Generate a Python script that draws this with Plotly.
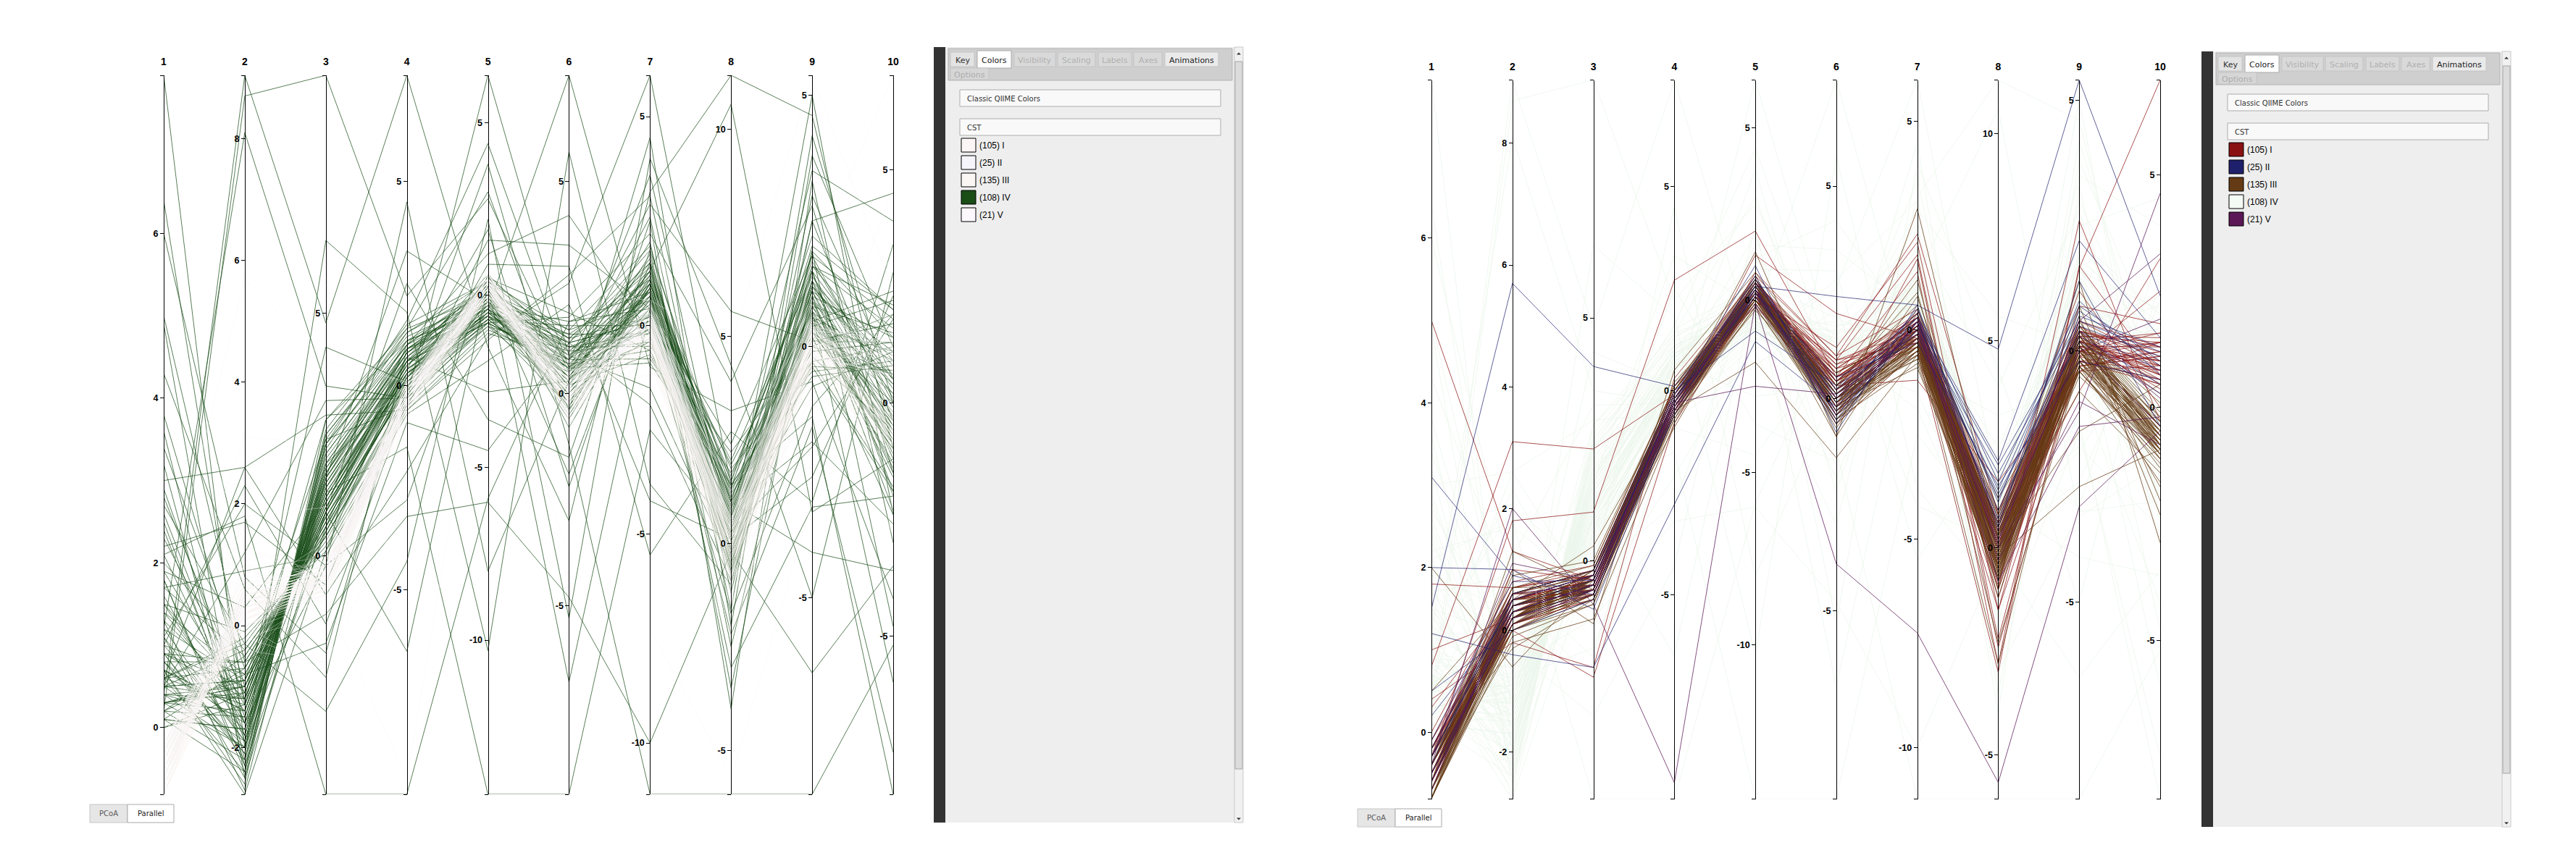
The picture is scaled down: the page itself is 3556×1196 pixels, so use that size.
import plotly.graph_objects as go

W, H = 3556, 1196

# -------------------------------------
# axes of the parallel plot (PC1..PC10)
# -------------------------------------
axis_labels = ["1", "2", "3", "4", "5", "6", "7", "8", "9", "10"]
axis_ranges = [[-0.81, 7.92], [-2.77, 9.04], [-4.91, 9.9], [-10.0, 7.6], [-14.47, 6.38],
               [-9.44, 7.5], [-11.23, 5.99], [-6.06, 11.3], [-8.92, 5.4], [-8.4, 7.03]]
axis_ticks = [[0, 2, 4, 6], [-2, 0, 2, 4, 6, 8], [0, 5], [-10, -5, 0, 5], [-10, -5, 0, 5],
              [-5, 0, 5], [-10, -5, 0, 5], [-5, 0, 5, 10], [-5, 0, 5], [-5, 0, 5]]

cst_groups = ["I", "II", "III", "IV", "V"]
cst_counts = [105, 25, 135, 108, 21]

# samples, one row per sample, values on axes 1..10
iv_rows = [
    [0.4, -1.2, 1.1, 0.3, -0.4, 0.6, 0.5, 0.2, 0.8, -0.5],
    [0.7, -1.6, 1.6, 0.6, -0.2, 1.2, 0.1, 0.9, 0.4, 1.1],
    [0.2, -0.8, 0.6, 0.0, -0.6, -0.2, 0.9, -0.3, 1.3, -1.2],
    [1.1, -1.9, 1.9, 0.8, 0.1, 0.4, 1.3, 0.5, 0.2, 0.6],
    [0.5, -0.4, 0.3, -0.3, -0.9, 1.0, -0.4, 1.4, -0.3, -1.8],
    [0.9, -2.1, 2.3, 1.0, 0.3, 0.1, 0.7, -0.6, 1.6, 2.1],
    [0.3, -1.0, 0.9, 0.4, -0.5, 1.4, -0.2, 0.3, 0.6, -0.2],
    [1.4, -1.4, 1.3, 0.2, 0.2, -0.4, 1.1, 1.8, -0.5, 0.9],
    [0.6, -0.2, 0.2, -0.5, -1.0, 0.7, 0.3, -0.8, 1.0, -2.3],
    [1.8, -2.3, 2.5, 1.2, -0.1, 0.9, 1.6, 0.0, 1.9, 1.4],
    [0.1, -1.7, 1.5, 0.5, -0.3, -0.1, 0.4, 1.1, 0.3, -0.9],
    [0.8, -0.6, 0.5, 0.1, -0.7, 1.6, 0.0, 0.6, 1.4, 0.3],
    [2.3, -1.1, 0.9, 0.7, 0.4, 0.3, 1.4, -0.2, 0.9, -1.5],
    [0.4, -2.0, 2.0, 0.9, -0.6, 1.1, -0.5, 2.2, 0.1, 1.7],
    [1.2, -0.9, 0.8, -0.1, 0.0, 0.5, 0.8, 0.4, -0.2, -0.6],
    [0.0, -1.3, 1.2, 0.6, -0.8, -0.3, 1.0, 1.5, 1.7, 0.1],
    [2.9, -1.5, 1.4, 0.3, 0.5, 1.3, 0.2, -0.5, 0.5, 2.4],
    [0.6, -0.3, 0.4, -0.4, -0.2, 0.2, -0.7, 0.8, 1.1, -1.1],
    [1.6, -1.8, 1.7, 1.1, -0.4, 0.8, 1.5, 0.2, -0.4, 0.7],
    [0.3, -1.1, 1.0, 0.2, 0.1, 1.5, 0.6, 1.9, 0.7, -0.4],
    [3.4, -0.7, 0.7, 0.0, -0.9, 0.0, -0.3, -0.1, 1.5, -2.0],
    [0.9, -2.2, 2.2, 1.3, 0.2, 0.6, 1.2, 1.0, 0.0, 1.9],
    [0.2, -0.5, 0.5, -0.2, -0.5, 1.2, 0.1, -0.7, 0.8, -0.7],
    [1.3, -1.2, 1.1, 0.5, -0.1, -0.5, 0.9, 0.7, 1.2, 0.5],
    [0.5, -1.9, 1.8, 0.8, 0.3, 0.9, -0.1, 1.3, -0.1, 1.3],
    [2.0, -0.4, 0.4, -0.3, -0.7, 0.4, 1.1, 0.1, 0.6, -1.6],
    [0.7, -1.4, 1.3, 0.4, -0.3, 1.7, 0.4, 2.4, 1.8, 0.0],
    [0.1, -2.4, 2.4, 1.4, 0.0, 0.2, 1.7, -0.4, 0.4, 2.2],
    [1.0, -0.8, 0.7, 0.1, -0.8, 0.7, -0.6, 0.5, 1.0, -0.8],
    [2.6, -1.6, 1.5, 0.6, 0.6, 1.0, 0.8, 1.2, -0.6, 0.8],
    [0.4, -1.0, 1.0, 0.3, -0.4, -0.2, 0.3, 0.0, 1.3, -0.3],
    [1.5, -0.1, 0.1, -0.6, -1.1, 0.8, -0.8, 1.7, 0.2, -2.4],
    [0.8, -1.7, 1.7, 0.9, 0.1, 1.3, 1.3, 0.6, 0.9, 1.0],
    [0.3, -2.0, 2.1, 1.0, -0.2, 0.1, 0.6, -0.3, 1.6, 1.6],
    [1.9, -1.3, 1.2, 0.4, -0.6, 0.6, 1.0, 0.9, 0.3, -1.0],
    [0.6, -0.7, 0.6, 0.0, 0.2, 1.1, -0.2, 0.3, 0.7, 0.4],
    [3.8, -1.0, 0.9, 0.2, -0.5, 0.3, 0.7, 1.4, 1.1, -0.6],
    [0.2, -1.5, 1.4, 0.7, 0.0, -0.4, 1.2, -0.6, -0.3, 1.2],
    [1.1, -2.5, 2.6, 1.5, 0.4, 1.5, 1.9, 0.8, 2.0, 2.0],
    [0.5, -0.9, 0.8, -0.1, -0.9, 0.5, 0.0, 0.2, 0.5, -1.3],
    [1.7, -0.5, 0.4, -0.2, -0.4, 0.9, 0.5, 2.0, 1.4, -0.1],
    [0.9, -1.2, 1.2, 0.5, 0.3, 0.0, 0.9, -0.2, 0.0, 0.6],
    [2.4, -1.8, 1.8, 0.8, -0.2, 1.2, 1.4, 1.1, 0.8, 1.5],
    [0.0, -1.1, 1.0, 0.3, -0.7, 0.4, -0.4, 0.7, 1.2, -0.5],
    [1.3, -2.7, 1.6, 0.9, 0.1, 0.8, 0.6, -0.5, 0.6, 0.9],
    [0.7, -2.6, 2.8, 1.1, -0.3, -0.3, 1.0, 1.6, 1.5, -1.9],
    [0.6, -1.3, 1.2, 0.5, -0.2, 0.7, 0.8, 0.4, 0.9, 0.2],
    [1.0, -1.8, 1.7, 0.7, 0.0, 1.0, 1.0, 0.9, 1.3, 0.8],
    [0.3, -0.9, 0.8, 0.2, -0.5, 0.4, 0.4, 0.1, 0.6, -0.6],
    [0.8, -2.0, 2.1, 1.0, 0.2, 0.5, 1.3, 1.2, 1.0, 1.4],
    [0.4, -1.5, 1.4, 0.6, -0.3, 1.1, 0.2, 0.6, 1.5, 0.5],
    [1.5, -1.1, 1.0, 0.3, -0.6, 0.2, 0.9, -0.2, 0.4, -1.0],
    [0.2, -2.2, 2.3, 1.1, 0.1, 1.3, 1.5, 1.0, 1.8, 1.8],
    [0.9, -0.6, 0.6, 0.0, -0.8, 0.6, -0.1, 0.3, 0.7, -1.4],
    [2.1, -1.6, 1.6, 0.8, 0.3, 0.8, 1.2, 0.7, 1.1, 1.1],
    [0.5, -1.2, 1.1, 0.4, -0.4, 0.0, 0.6, 0.5, 0.3, 0.0],
    [1.2, -1.9, 1.9, 0.9, -0.1, 1.4, 1.1, 1.5, 1.6, 0.9],
    [0.1, -0.7, 0.7, 0.1, -0.7, 0.3, 0.3, -0.4, 0.9, -0.9],
    [0.7, -1.4, 1.5, 0.6, 0.1, 0.9, 0.7, 0.8, 1.2, 0.4],
    [1.8, -2.4, 2.5, 1.3, 0.4, 1.2, 1.8, 1.3, 2.2, 2.0],
    [0.3, -1.0, 0.9, 0.3, -0.5, 0.6, 0.1, 0.2, 0.5, -0.3],
    [2.2, 1.7, -0.6, 0.2, 0.5, 1.9, -0.6, 0.4, -0.8, 1.1],
    [1.0, 2.3, -1.4, -0.4, -0.8, 0.6, 2.6, -1.2, 2.5, -0.4],
    [0.5, 1.2, 3.2, -0.3, 1.6, 3.5, 0.4, 0.9, -1.9, -2.6],
    [3.0, 2.6, 2.9, -0.6, -1.3, 2.8, 3.1, -0.7, 3.0, 0.5],
    [7.92, -2.0, 0.5, 0.2, -0.3, 0.4, 0.9, -0.5, 0.6, -0.8],
    [6.4, -1.3, 2.8, 1.4, 3.0, -0.4, 4.5, -2.0, 3.8, 1.2],
    [5.0, -0.6, -1.2, -3.2, -6.0, -4.8, -10.0, -0.2, -6.5, -3.5],
    [4.3, 0.6, -2.5, 0.9, -0.4, 7.5, -1.0, 3.2, -0.7, -4.2],
    [0.2, 8.7, 9.9, 2.2, 2.8, 0.5, 2.0, -1.6, 4.2, 0.0],
    [0.4, 9.04, 4.8, 7.6, -1.5, -3.0, 3.2, 11.3, 4.6, -1.0],
    [1.2, 8.1, 3.5, -0.3, 6.38, 0.9, -1.5, -0.5, 2.5, 4.5],
    [0.6, 2.6, -0.8, -2.1, -1.2, 2.6, 5.99, 1.4, -1.4, -8.4],
    [2.1, 1.8, -4.91, -10.0, -5.9, 1.7, 0.8, -3.0, -3.2, -2.0],
    [0.9, -1.0, 1.3, -1.5, -14.47, -9.44, -2.5, 0.3, -2.0, 1.8],
    [3.6, -2.2, 1.9, -0.1, 3.8, -1.2, -11.23, -6.06, -8.92, -5.2],
    [1.5, -1.6, -0.2, 4.5, -8.0, 0.3, 1.3, 10.6, -3.3, -1.2],
    [0.8, -2.1, 6.5, 1.8, -10.3, 5.7, -3.8, -1.0, 1.9, -4.8],
    [2.7, -0.3, -3.2, -4.3, 2.2, -5.3, 4.0, 4.3, -5.0, 2.8],
    [4.9, -2.5, 0.9, 2.5, -3.6, -1.5, 2.5, -4.0, 3.3, -3.0],
    [0.5, -0.9, 2.4, -0.5, 0.9, 3.0, -5.5, 2.7, -3.1, 3.4],
    [1.9, 0.3, 1.1, 0.4, 1.9, -2.2, 1.8, -2.5, 0.7, -6.0],
    [0.3, -1.4, 1.7, 0.7, -2.8, 0.3, 3.6, 0.2, 5.0, -2.4],
    [3.2, -2.3, 0.6, 1.0, 1.2, 4.2, -0.2, -1.7, -1.2, 1.9],
    [1.1, 2.0, -0.2, -2.8, 0.6, -0.8, 0.9, 1.0, -4.1, -3.6],
    [0.7, -2.77, 0.1, 0.6, -0.8, 1.8, 2.2, 3.9, 2.8, -1.5],
    [2.5, -1.9, 1.6, 3.3, -0.2, -0.6, 1.0, 0.6, 3.5, 3.9],
    [1.4, -0.8, -1.8, -0.9, -4.5, 1.2, -1.9, -0.9, 0.4, 0.2],
    [0.1, -1.7, 0.9, -6.5, 0.3, -6.8, 0.4, -2.2, -1.6, -7.5],
    [6.0, 0.8, -2.0, 0.3, -0.6, 0.8, 2.9, 5.6, 0.1, 1.3],
    [0.6, -2.4, 2.3, 1.6, 4.4, 0.6, -0.9, 1.4, -0.4, -1.9],
    [2.8, -1.2, 4.3, 0.1, 0.1, -1.9, 1.5, -3.5, 1.2, 0.6],
    [1.7, 0.9, 0.0, -0.7, -1.9, 2.1, -4.2, 0.1, -2.6, 2.3],
]

iii_rows = [
    [-0.6, 0.3, -0.5, -0.3, 0.2, -0.1, -0.1, 0.3, 0.1, -0.6],
    [-0.7, 0.2, -0.6, -0.4, 0.1, -0.3, -0.2, 0.1, 0.0, -0.8],
    [-0.5, 0.4, -0.4, -0.2, 0.3, 0.0, 0.0, 0.4, 0.2, -0.5],
    [-0.8, 0.1, -0.7, -0.5, 0.0, -0.4, -0.3, 0.0, -0.1, -0.9],
    [-0.4, 0.5, -0.3, -0.1, 0.4, 0.1, 0.1, 0.5, 0.3, -0.4],
    [-0.6, 0.2, -0.8, -0.6, 0.2, -0.2, -0.4, -0.2, -0.2, -1.0],
    [-0.3, 0.6, -0.2, 0.0, 0.5, 0.2, 0.2, 0.6, 0.4, -0.3],
    [-0.7, 0.0, -0.6, -0.3, -0.1, -0.5, -0.1, 0.2, 0.0, -0.7],
    [-0.5, 0.3, -0.5, -0.4, 0.3, 0.1, -0.2, -0.1, 0.1, -1.1],
    [-0.6, 0.4, -0.4, -0.2, 0.1, -0.1, 0.0, 0.3, -0.3, -0.6],
    [-0.2, 0.7, -0.1, 0.1, 0.6, 0.3, 0.3, 0.7, 0.5, -0.2],
    [-0.8, -0.1, -0.9, -0.7, -0.2, -0.6, -0.5, -0.4, -0.4, -1.2],
    [-0.4, 0.3, -0.6, -0.3, 0.2, 0.0, -0.3, 0.1, 0.2, -0.8],
    [-0.6, 0.5, -0.3, -0.1, 0.0, -0.2, 0.1, 0.4, 0.0, -0.5],
    [-0.5, 0.1, -0.7, -0.5, 0.4, -0.3, -0.2, 0.0, -0.2, -0.9],
    [-0.7, 0.3, -0.5, -0.2, 0.3, 0.2, -0.1, 0.2, 0.1, -0.4],
    [-0.3, 0.4, -0.4, -0.4, 0.1, -0.1, 0.0, -0.3, 0.3, -0.7],
    [-0.6, 0.2, -0.2, 0.0, 0.2, 0.0, -0.4, 0.3, -0.1, -1.0],
    [-0.5, 0.6, -0.6, -0.3, 0.5, -0.4, 0.2, 0.5, 0.2, -0.6],
    [-0.8, 0.0, -0.8, -0.6, -0.1, -0.2, -0.3, -0.1, -0.3, -0.8],
    [-0.4, 0.2, -0.5, -0.2, 0.0, 0.1, 0.0, 0.1, 0.0, -0.3],
    [-0.6, 0.4, -0.3, -0.1, 0.3, -0.3, -0.2, 0.6, 0.4, -0.9],
    [-0.7, 0.1, -0.7, -0.4, 0.2, 0.0, -0.1, -0.2, -0.2, -0.5],
    [-0.2, 0.5, -0.2, 0.0, 0.4, 0.4, 0.3, 0.2, 0.1, -0.2],
    [-0.5, 0.3, -0.6, -0.5, 0.1, -0.5, -0.5, 0.0, -0.4, -1.1],
    [-0.6, 0.2, -0.4, -0.3, 0.3, 0.1, 0.1, 0.4, 0.2, -0.7],
    [-0.4, 0.7, -0.5, -0.2, 0.6, -0.1, -0.1, 0.8, 0.3, -0.4],
    [-0.7, 0.3, -0.6, -0.4, 0.0, -0.3, -0.2, 0.1, 0.0, -0.9],
    [-0.3, 0.1, -0.3, -0.1, 0.2, 0.2, 0.0, -0.4, -0.1, -0.6],
    [-0.6, 0.5, -0.7, -0.6, 0.1, 0.0, -0.3, 0.3, 0.1, -1.0],
    [-0.6, 0.3, -0.4, -0.3, 0.3, -0.2, -0.4, -0.5, 0.2, -0.7],
    [-0.7, 0.5, -0.5, -0.2, 0.2, 0.0, -0.6, -0.7, 0.0, -0.9],
    [-0.5, 0.2, -0.3, -0.4, 0.4, -0.3, -0.3, -0.3, 0.3, -0.5],
    [-0.8, 0.4, -0.6, -0.5, 0.1, -0.1, -0.7, -0.8, -0.1, -0.8],
    [-0.4, 0.6, -0.2, -0.1, 0.5, 0.1, -0.2, -0.2, 0.4, -0.4],
    [-0.6, 0.1, -0.5, -0.4, 0.0, -0.4, -0.5, -0.6, -0.3, -1.0],
    [-0.7, 0.3, -0.4, -0.3, 0.3, -0.2, -0.9, -0.4, 0.1, -0.6],
    [-0.5, 0.4, -0.6, -0.2, 0.2, 0.1, -0.4, -0.7, 0.2, -0.8],
    [-0.3, 0.5, -0.3, -0.1, 0.4, 0.0, -0.1, -0.1, 0.5, -0.3],
    [-0.6, 0.2, -0.5, -0.5, 0.1, -0.3, -0.6, -0.5, -0.2, -0.9],
    [-0.7, 0.0, -0.7, -0.6, -0.2, -0.5, -0.8, -0.8, -0.4, -1.1],
    [-0.5, 0.3, -0.4, -0.3, 0.3, -0.1, -0.3, -0.3, 0.0, -0.6],
    [-0.6, 0.6, -0.3, -0.2, 0.5, 0.2, -0.2, -0.4, 0.3, -0.5],
    [-0.8, 0.2, -0.6, -0.4, 0.1, -0.2, -0.5, -0.6, -0.1, -0.7],
    [-0.4, 0.4, -0.5, -0.3, 0.2, -0.4, -0.4, -0.2, 0.1, -0.9],
    [-0.6, 0.1, -0.4, -0.2, 0.0, 0.0, -0.7, -0.7, -0.3, -0.8],
    [-0.5, 0.5, -0.5, -0.4, 0.4, -0.2, -0.3, -0.5, 0.2, -0.4],
    [-0.7, 0.3, -0.6, -0.3, 0.2, -0.3, -0.6, -0.3, 0.0, -1.0],
    [-0.6, 0.2, -0.2, -0.1, 0.3, 0.1, -0.2, -0.6, 0.4, -0.6],
    [-0.5, 0.4, -0.4, -0.5, 0.1, -0.1, -0.5, -0.4, -0.2, -0.7],
    [-0.5, 0.4, -0.5, -0.3, 1.4, -0.9, 2.9, 0.2, 0.6, -0.8],
    [-0.8, 0.2, -0.6, -0.2, 0.3, -0.9, 0.4, -2.3, -0.3, -1.6],
    [2.0, -0.6, -0.4, -0.1, 0.2, 0.0, -0.1, 0.5, 0.7, -2.3],
    [-0.6, 0.3, -0.7, -0.5, -1.8, -1.4, -0.6, 0.0, -1.6, 0.5],
    [-0.4, 0.9, 0.0, 0.1, 0.4, 0.3, 0.9, -0.8, 0.5, -0.1],
    [-0.7, -0.2, -1.2, -0.8, 0.5, -0.6, 0.2, 1.2, -0.2, -1.3],
    [-0.3, 1.0, -1.3, 0.5, 0.8, 0.4, 0.6, -1.2, 0.4, 0.1],
    [-0.8, 0.6, -0.2, -0.6, 0.0, -0.5, -0.4, 0.6, 0.9, -2.0],
    [-0.5, 0.0, -0.9, 0.2, 0.2, 0.2, 1.2, -0.5, -0.5, -0.9],
    [-0.6, 1.3, -0.6, -0.7, 0.6, -0.2, -0.3, -2.8, 0.2, -0.4],
    [0.5, 0.5, 0.3, -0.3, 0.1, 0.6, 0.0, 0.3, -0.8, -1.4],
    [-0.7, 0.2, -0.4, -0.9, 0.3, -0.7, 0.5, 0.9, 0.3, -0.6],
    [-0.2, -0.3, -0.8, -0.4, -0.3, 0.1, -0.2, -1.0, 0.1, -1.7],
    [-0.6, 0.4, -0.3, 0.0, 0.7, -0.4, 0.8, 0.4, -0.4, -1.0],
    [-0.81, 0.1, -0.6, -0.5, 0.2, -0.1, -0.1, 0.0, 0.2, -0.7],
    [-0.5, 0.2, -0.5, -0.3, 0.2, 0.1, -0.2, 0.3, 1.4, -2.9],
    [-0.6, 0.4, -0.4, -0.2, 0.4, -0.2, 0.0, -0.2, -2.7, -0.9],
]

i_rows = [
    [-0.4, 0.4, -0.5, -0.3, 0.3, 0.3, -0.1, 0.2, 0.2, 0.8],
    [-0.5, 0.3, -0.6, -0.4, 0.2, 0.5, 0.1, -0.1, 0.0, 1.0],
    [-0.3, 0.6, -0.3, -0.1, 0.5, 0.1, 0.2, 0.5, 0.3, 0.6],
    [-0.6, 0.2, -0.7, -0.5, 0.0, 0.7, -0.3, 0.0, -0.2, 1.2],
    [-0.2, 0.5, -0.4, -0.2, 0.4, 0.2, 0.3, 0.7, 0.4, 0.5],
    [-0.5, 0.1, -0.8, -0.6, 0.1, 0.9, 0.0, -0.3, -0.1, 1.4],
    [-0.1, 0.7, -0.2, 0.0, 0.6, 0.4, 0.4, 0.3, 0.5, 0.9],
    [-0.4, 0.3, -0.5, -0.3, 0.2, -0.1, -0.2, 0.1, 0.1, 0.7],
    [-0.6, 0.4, -0.6, -0.4, 0.3, 0.6, 0.0, -0.5, -0.3, 1.1],
    [-0.3, 0.2, -0.3, -0.2, 0.1, 0.3, 0.1, 0.4, 0.2, 0.4],
    [0.0, 0.8, -0.1, 0.1, 0.7, 1.0, 0.5, 0.9, 0.6, 1.3],
    [-0.5, 0.0, -0.7, -0.5, -0.1, 0.0, -0.4, -0.2, -0.4, 0.9],
    [-0.2, 0.5, -0.4, -0.1, 0.4, 0.5, 0.2, 0.6, 0.3, 1.5],
    [-0.4, 0.3, -0.6, -0.3, 0.2, 0.2, -0.1, 0.0, 0.0, 0.6],
    [-0.6, 0.6, -0.5, -0.2, 0.5, 0.8, 0.3, 0.2, 0.1, 1.0],
    [-0.3, 0.1, -0.8, -0.6, 0.0, 0.4, -0.2, -0.4, -0.2, 0.8],
    [-0.1, 0.4, -0.3, 0.0, 0.3, 0.1, 0.1, 0.5, 0.4, 1.2],
    [-0.5, 0.2, -0.5, -0.4, 0.1, 0.6, 0.0, 0.1, -0.1, 0.5],
    [-0.2, 0.6, -0.2, -0.1, 0.6, 0.3, 0.4, 0.8, 0.5, 0.7],
    [-0.4, 0.3, -0.7, -0.5, 0.2, 0.9, -0.3, -0.2, 0.0, 1.4],
    [0.3, 0.5, -0.4, -0.2, 0.4, 0.0, 0.2, 0.3, 0.2, 0.9],
    [-0.6, 0.1, -0.6, -0.3, 0.0, 0.5, -0.1, -0.6, -0.3, 1.1],
    [-0.3, 0.7, -0.3, 0.0, 0.5, 0.7, 0.3, 0.4, 0.3, 0.3],
    [-0.5, 0.4, -0.5, -0.4, 0.3, 0.2, 0.1, 0.0, 0.1, 1.3],
    [-0.2, 0.2, -0.4, -0.2, 0.1, 0.4, -0.2, 0.2, -0.2, 0.6],
    [-0.4, 0.5, -0.4, -0.2, 0.3, 0.4, 0.0, -0.8, 0.4, 1.1],
    [-0.5, 0.2, -0.6, -0.3, 0.1, 0.2, -0.3, -1.2, 0.1, 0.8],
    [-0.3, 0.4, -0.5, -0.4, 0.4, 0.6, 0.2, -0.4, 0.3, 1.4],
    [-0.6, 0.3, -0.3, -0.1, 0.2, 0.0, -0.1, -1.0, -0.2, 0.5],
    [-0.2, 0.6, -0.2, 0.0, 0.5, 0.3, 0.3, 0.0, 0.6, 1.0],
    [-0.5, 0.1, -0.7, -0.5, 0.0, 0.5, -0.4, -1.5, -0.3, 1.2],
    [-0.4, 0.3, -0.4, -0.3, 0.3, 0.1, 0.1, -0.6, 0.2, 0.7],
    [-0.3, 0.5, -0.6, -0.2, 0.2, 0.8, -0.2, -0.9, 0.0, 1.6],
    [5.0, 1.3, -0.4, -0.2, 0.3, 0.5, 0.1, 0.3, 0.2, 1.0],
    [1.8, 0.7, -0.3, -0.3, 0.2, 0.2, 0.0, -0.1, 0.0, 0.9],
    [0.8, 3.1, 2.3, -0.1, 0.5, 0.9, 1.8, -2.2, 0.4, 1.3],
    [-0.3, 1.8, 1.0, 2.7, 2.0, 0.5, 1.4, -2.8, 1.7, 0.7],
    [-0.6, 1.0, -0.4, -0.5, 1.3, 2.0, -0.2, 0.6, 0.2, 1.6],
    [-0.4, 0.0, -2.4, -0.8, 0.1, 1.2, 2.1, -1.5, 0.9, 1.8],
    [0.4, -0.2, -2.2, 0.3, 0.6, -0.2, 1.7, -2.4, -0.1, 2.5],
    [-0.5, 0.5, -0.6, -0.4, 0.4, -0.6, -0.5, -3.0, 1.65, 7.03],
    [-0.2, 0.3, -0.5, -0.6, 0.8, 1.0, 2.3, 0.8, 1.2, 0.0],
    [-0.7, 0.6, -0.7, 0.1, -0.2, 0.3, -1.2, 1.6, -0.4, 1.4],
    [1.0, 0.2, -0.2, -0.3, 0.2, 0.7, 0.4, -1.0, 2.6, -0.3],
    [-0.4, 0.4, -0.5, -0.4, 0.5, 0.4, 0.3, 0.1, -0.8, 3.2],
]

ii_rows = [
    [-0.3, 0.4, -0.4, -0.2, 0.5, 0.0, 0.3, 1.4, 0.8, 0.9],
    [-0.5, 0.2, -0.6, -0.4, 0.3, -0.3, 0.1, 1.8, 0.5, 1.1],
    [-0.2, 0.5, -0.3, -0.1, 0.6, 0.2, 0.4, 1.1, 1.0, 0.7],
    [0.2, 0.3, -0.5, -0.3, 0.4, -0.5, 0.2, 2.0, 0.6, 1.2],
    [-0.4, 0.6, -0.2, 0.0, -0.9, 0.3, -0.1, 0.9, 0.3, 0.5],
    [3.1, 0.9, -0.7, -0.6, 0.2, -0.1, 0.5, 1.6, 0.9, 1.0],
    [1.5, 5.7, 4.0, 0.1, 0.3, -0.6, 0.2, 1.2, 0.4, 0.8],
    [2.0, 1.0, -1.0, -0.5, 0.4, 2.4, 0.6, 4.8, 5.4, 2.4],
    [1.2, -0.4, -2.2, -2.8, -1.2, -0.2, 0.3, 2.1, 2.2, 1.5],
    [-0.1, 0.8, -0.4, -0.3, 0.7, -0.4, 0.0, 1.3, 0.2, 0.3],
    [-0.6, 0.3, -0.5, -0.2, 0.1, 0.1, 0.2, 0.7, 0.7, 1.3],
    [0.5, 0.0, -0.8, -0.4, 0.2, 0.5, -0.3, 1.5, -0.2, 0.6],
    [-0.3, 0.5, -0.3, -0.1, 1.0, -0.8, 0.6, 0.5, 1.4, -0.4],
]

v_rows = [
    [-0.5, 0.3, -0.5, -0.3, 0.2, 0.0, 0.0, 0.2, 0.1, -0.4],
    [-0.4, 2.0, -0.9, -9.6, -0.1, -0.3, 0.2, 0.0, -1.2, 4.6],
    [-0.6, 0.4, -0.6, -0.2, -0.1, -3.9, -7.25, -5.66, -3.1, -0.5],
    [-0.3, 1.1, -0.4, -0.4, 0.3, 0.2, -0.1, 0.4, 0.0, 1.9],
    [-0.5, 0.2, -0.7, -0.5, 0.1, -0.2, 0.1, -0.3, -1.0, -0.8],
    [-0.7, 0.5, -0.3, -0.1, 0.5, 0.4, 0.3, 0.6, 0.4, 0.2],
    [-0.2, 0.6, -0.5, -0.3, -2.5, 0.1, -0.2, 0.1, 0.6, 3.3],
    [-0.6, 0.1, -0.6, -0.4, 0.3, -0.4, 0.2, -0.8, -1.5, -0.2],
]

group_rows = {"I": i_rows, "II": ii_rows, "III": iii_rows, "IV": iv_rows, "V": v_rows}
draw_order = ["IV", "I", "III", "II", "V"]   # later = drawn on top

# colours of the two screenshots (left: only IV highlighted, right: IV hidden)
left_colors = {"I": "#fbf5f5", "II": "#f5f5fb", "III": "#faf6f3", "IV": "#1b4d17", "V": "#fcf7fc"}
right_colors = {"I": "#8a1111", "II": "#1f206b", "III": "#643b15", "IV": "#f4faf4", "V": "#5b1756"}
left_lines = {"I": "rgba(250,245,245,0.4)", "II": "rgba(245,245,251,0.4)",
              "III": "rgba(250,246,242,0.4)", "IV": "rgba(27,77,27,0.72)",
              "V": "rgba(251,246,251,0.4)"}
right_lines = {"I": "rgba(139,17,17,0.72)", "II": "rgba(31,32,110,0.7)",
               "III": "rgba(100,59,22,0.75)", "IV": "rgba(236,246,236,0.8)",
               "V": "rgba(91,23,86,0.75)"}


def X(px):
    return px / W


def Y(py):
    return 1 - py / H


tick_font = dict(family="Liberation Sans, Arial", size=12.5, color="black", weight="bold")
label_font = dict(family="Liberation Sans, Arial", size=14, color="black", weight="bold")

fig = go.Figure()
axes = {}


def parallel_panel(p, line_cols, x0, x1, y0, y1):
    # one hidden 0..1 axis for the polylines, ten visible axes overlaid on it
    xname = "x" if p == 0 else "x2"
    xkey = "xaxis" if p == 0 else "xaxis2"
    first = 1 + 11 * p
    base = "y" if first == 1 else "y%d" % first
    basekey = "yaxis" if first == 1 else "yaxis%d" % first
    axes[xkey] = dict(domain=[X(x0), X(x1)], range=[1, len(axis_labels)], anchor=base,
                      side="top", tickvals=list(range(1, len(axis_labels) + 1)),
                      ticktext=axis_labels, ticks="outside", ticklen=7,
                      tickcolor="rgba(0,0,0,0)", showgrid=False, zeroline=False,
                      showline=False, tickfont=label_font,
                      automargin=False, fixedrange=True)
    axes[basekey] = dict(domain=[Y(y1), Y(y0)], range=[0, 1], anchor=xname,
                         visible=False, automargin=False, fixedrange=True)
    step = (x1 - x0) / (len(axis_labels) - 1)
    for j, (lo, hi) in enumerate(axis_ranges):
        n = first + 1 + j
        axes["yaxis%d" % n] = dict(
            overlaying=base, anchor="free", position=X(x0 + j * step), side="left",
            range=[lo, hi], tickvals=[lo] + axis_ticks[j] + [hi],
            ticktext=[""] + [str(t) for t in axis_ticks[j]] + [""],
            ticks="outside", ticklen=5, tickwidth=1, tickcolor="black",
            showline=True, linecolor="black", linewidth=1,
            showgrid=False, zeroline=False, tickfont=tick_font,
            automargin=False, fixedrange=True)
        fig.add_trace(go.Scatter(x=[1], y=[lo], mode="markers", marker=dict(opacity=0),
                                 xaxis=xname, yaxis="y%d" % n, hoverinfo="skip",
                                 showlegend=False))
    for g in draw_order:
        for r in group_rows[g]:
            fig.add_trace(go.Scatter(
                x=list(range(1, len(axis_labels) + 1)),
                y=[(v - lo) / (hi - lo) for v, (lo, hi) in zip(r, axis_ranges)],
                mode="lines", line=dict(color=line_cols[g], width=1),
                xaxis=xname, yaxis=base, hoverinfo="skip", showlegend=False))


parallel_panel(0, left_lines, 218, 1225, 96, 1089)
parallel_panel(1, right_lines, 1968, 2974, 102.5, 1095.5)

shapes, annotations = [], []


def rect(x0, y0, x1, y1, fill, line=None, width=1):
    shapes.append(dict(type="rect", xref="paper", yref="paper",
                       x0=X(x0), x1=X(x1), y0=Y(y1), y1=Y(y0),
                       fillcolor=fill, line=dict(color=line or fill, width=width if line else 0),
                       layer="above"))


def text(x, y, s, size, color, family="DejaVu Sans", anchor="left"):
    annotations.append(dict(x=X(x), y=Y(y), xref="paper", yref="paper", text=s,
                            showarrow=False, xanchor=anchor, yanchor="middle",
                            font=dict(family=family, size=size, color=color)))


def tri(cx, cy, up=True):
    d = 3 if up else -3
    path = "M {} {} L {} {} L {} {} Z".format(X(cx - 3), Y(cy + d / 2), X(cx + 3), Y(cy + d / 2),
                                              X(cx), Y(cy - d / 2))
    shapes.append(dict(type="path", xref="paper", yref="paper", path=path,
                       fillcolor="#333333", line=dict(width=0), layer="above"))


def side_panel(dx, dy, swatch_cols):
    rect(1281 + dx, 57 + dy, 1297 + dx, 1128 + dy, "#333333")
    rect(1297 + dx, 57 + dy, 1696 + dx, 1128 + dy, "#eeeeee")
    # scrollbar
    rect(1696 + dx, 57 + dy, 1708 + dx, 1128 + dy, "#f1f1f1", "#c9c9c9")
    rect(1697 + dx, 77 + dy, 1707 + dx, 1054 + dy, "#dcdcdc", "#a5a5a5")
    tri(1702 + dx, 66 + dy, True)
    tri(1702 + dx, 1123 + dy, False)
    # tab header
    rect(1301 + dx, 59 + dy, 1693 + dx, 103 + dy, "#cfcfcf", "#b3b3b3")
    tabs = [("Key", 1304, 1337, 64, 84, "#e3e3e3", "#333333"),
            ("Colors", 1341, 1388, 62, 86, "#ffffff", "#222222"),
            ("Visibility", 1392, 1449, 64, 84, "#d9d9d9", "#b0b0b0"),
            ("Scaling", 1452, 1504, 64, 84, "#d9d9d9", "#b0b0b0"),
            ("Labels", 1508, 1554, 64, 84, "#d9d9d9", "#b0b0b0"),
            ("Axes", 1557, 1596, 64, 84, "#d9d9d9", "#b0b0b0"),
            ("Animations", 1600, 1674, 64, 84, "#eaeaea", "#222222"),
            ("Options", 1304, 1357, 86, 102, "#d6d6d6", "#adadad")]
    for name, x0, x1, y0, y1, fill, col in tabs:
        rect(x0 + dx, y0 + dy, x1 + dx, y1 + dy, fill, "#c4c4c4" if fill != "#ffffff" else "#a9a9a9")
        text((x0 + x1) / 2 + dx, (y0 + y1) / 2 + dy + 1, name, 11, col, anchor="center")
    # menus
    rect(1317 + dx, 116 + dy, 1677 + dx, 139 + dy, "#f9f9f9", "#adadad")
    text(1325 + dx, 128 + dy, "Classic QIIME Colors", 10, "#333333")
    rect(1317 + dx, 156 + dy, 1677 + dx, 179 + dy, "#f9f9f9", "#adadad")
    text(1325 + dx, 168 + dy, "CST", 10, "#333333")
    # legend swatches
    for k, g in enumerate(cst_groups):
        y0 = 183 + 24 * k + dy
        rect(1319 + dx, y0, 1339 + dx, y0 + 19, swatch_cols[g], "#000000")
        text(1342 + dx, y0 + 10, "({}) {}".format(cst_counts[k], g), 12, "#000000",
             family="Liberation Sans, Arial")
    # PCoA / Parallel tabs under the plot
    rect(116 + dx, 1103 + dy, 168 + dx, 1128 + dy, "#e6e6e6", "#c6c6c6")
    rect(168 + dx, 1103 + dy, 232 + dx, 1128 + dy, "#ffffff", "#a9a9a9")
    text(142 + dx, 1115 + dy, "PCoA", 10, "#5a5a5a", anchor="center")
    text(200 + dx, 1115 + dy, "Parallel", 10, "#222222", anchor="center")


side_panel(0, 0, left_colors)
side_panel(1750, 6, right_colors)

fig.update_layout(
    width=W, height=H,
    margin=dict(l=0, r=0, t=0, b=0, autoexpand=False),
    paper_bgcolor="white",
    plot_bgcolor="white",
    shapes=shapes,
    annotations=annotations,
    showlegend=False,
    **axes,
)

fig.write_html("out.html")
